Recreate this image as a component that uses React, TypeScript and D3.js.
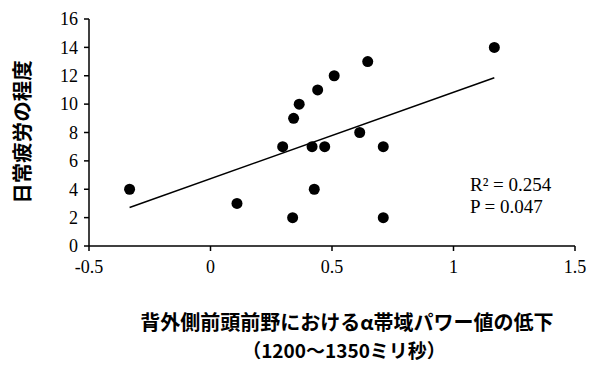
import React from 'react';
import * as d3 from 'd3';

// alpha power decrease (x) vs daily fatigue score (y)
const alphaDecrease = [-0.333, 0.109, 0.297, 0.342, 0.338, 0.365, 0.441, 0.509, 0.647, 1.168, 0.418, 0.470, 0.614, 0.711, 0.427, 0.711];
const fatigueScore = [4, 3, 7, 9, 2, 10, 11, 12, 13, 14, 7, 7, 8, 7, 4, 2];

const xTicks = [-0.5, 0, 0.5, 1, 1.5];
const yTicks = [0, 2, 4, 6, 8, 10, 12, 14, 16];

const yTitle = '日常疲労の程度';
const xTitle1 = '背外側前頭前野におけるα帯域パワー値の低下';
const xTitle2 = '（1200～1350ミリ秒）';
const statLines = ['R² = 0.254', 'P = 0.047'];

const W = 600;
const H = 375;
const serif = '"Liberation Serif", "Times New Roman", serif';
const cjk = '"Noto Sans CJK JP", "Noto Sans", sans-serif';

export default function App() {
  const margin = { left: 89, right: 25, top: 19, bottom: 129 };
  const x = d3.scaleLinear().domain([-0.5, 1.5]).range([margin.left, W - margin.right]);
  const y = d3.scaleLinear().domain([0, 16]).range([H - margin.bottom, margin.top]);

  // least squares fit
  const mx = d3.mean(alphaDecrease) as number;
  const my = d3.mean(fatigueScore) as number;
  let sxy = 0;
  let sxx = 0;
  alphaDecrease.forEach((v, i) => {
    sxy += (v - mx) * (fatigueScore[i] - my);
    sxx += (v - mx) * (v - mx);
  });
  const slope = sxy / sxx;
  const intercept = my - slope * mx;
  const [x0, x1] = d3.extent(alphaDecrease) as [number, number];
  const fitLine = d3.line<number>()
    .x(d => x(d))
    .y(d => y(intercept + slope * d));

  const y0 = y(0);

  return (
    <svg width={W} height={H} style={{ position: 'absolute', left: 0, top: 0, background: '#fff' }}>
      {/* y axis */}
      <line x1={x(-0.5)} x2={x(-0.5)} y1={y(0)} y2={y(16)} stroke="#000" strokeWidth={1.5} />
      {yTicks.map(t => (
        <g key={'y' + t}>
          <line x1={x(-0.5) - 5} x2={x(-0.5)} y1={y(t)} y2={y(t)} stroke="#000" strokeWidth={1.5} />
          <text x={x(-0.5) - 11} y={y(t)} dy="0.35em" textAnchor="end"
            fontFamily={serif} fontSize={18} fill="#000">{t}</text>
        </g>
      ))}
      {/* x axis */}
      <line x1={x(-0.5)} x2={x(1.5)} y1={y0} y2={y0} stroke="#000" strokeWidth={1.5} />
      {xTicks.map(t => (
        <g key={'x' + t}>
          <line x1={x(t)} x2={x(t)} y1={y0} y2={y0 + 5} stroke="#000" strokeWidth={1.5} />
          <text x={x(t)} y={y0 + 27} textAnchor="middle"
            fontFamily={serif} fontSize={18} fill="#000">{t}</text>
        </g>
      ))}
      {/* trend line */}
      <path d={fitLine([x0, x1]) || ''} fill="none" stroke="#000" strokeWidth={1.5} />
      {/* points */}
      {alphaDecrease.map((v, i) => (
        <circle key={i} cx={x(v)} cy={y(fatigueScore[i])} r={5.5} fill="#000" />
      ))}
      {/* stats */}
      {statLines.map((s, i) => (
        <text key={s} x={470} y={191 + i * 22} fontFamily={serif} fontSize={19} fill="#000">{s}</text>
      ))}
      {/* titles */}
      <text transform={`translate(30,132) rotate(-90)`} textAnchor="middle"
        fontFamily={cjk} fontWeight="bold" fontSize={20.5} fill="#000">{yTitle}</text>
      <text x={347} y={330} textAnchor="middle" fontFamily={cjk} fontWeight="bold" fontSize={20} fill="#000">{xTitle1}</text>
      <text x={344} y={358} textAnchor="middle" fontFamily={cjk} fontWeight="bold" fontSize={19} fill="#000">{xTitle2}</text>
    </svg>
  );
}
